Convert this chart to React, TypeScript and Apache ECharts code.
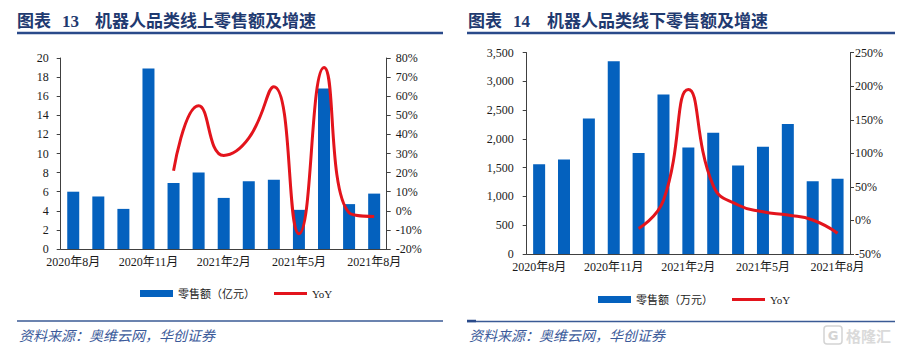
import React, { useEffect, useRef } from "react";
import * as echarts from "echarts";

const categories = [
  "2020年8月", "2020年9月", "2020年10月", "2020年11月", "2020年12月",
  "2021年1月", "2021年2月", "2021年3月", "2021年4月", "2021年5月",
  "2021年6月", "2021年7月", "2021年8月",
];
const onlineSales = [6.0, 5.5, 4.2, 18.9, 6.9, 8.0, 5.35, 7.1, 7.25, 4.1, 16.8, 4.7, 5.8];
const onlineYoY = [null, null, null, null, 21, 55, 29, 38, 65, -12, 75, -1, -3];
const offlineSales = [1560, 1645, 2355, 3350, 1755, 2775, 1850, 2110, 1540, 1865, 2260, 1265, 1310];
const offlineYoY = [null, null, null, null, -12, 30, 195, 52, 23, 13, 8, 0.7, -19];

const leftTicks = { min: 0, max: 20, interval: 2 };
const leftPct = { min: -20, max: 80, interval: 10 };
const rightTicks = { min: 0, max: 3500, interval: 500 };
const rightPct = { min: -50, max: 250, interval: 50 };

const BLUE = "#0461BE";
const RED = "#E3141C";
const AXIS = "#404040";
const LABEL = "#1a1a1a";
const SERIF = "'Liberation Serif', 'Times New Roman', 'Noto Sans CJK SC', serif";
const TITLE_C = "#1f3a70";

export default function App() {
  const ref = useRef<HTMLDivElement>(null);
  useEffect(() => {
    if (!ref.current) return;
    const chart = echarts.init(ref.current, undefined, { renderer: "svg" });
    const xAxisBase = (gridIndex: number) => ({
      type: "category" as const,
      gridIndex,
      data: categories,
      axisLine: { lineStyle: { color: AXIS, width: 1 } },
      axisTick: { interval: 2, length: 4, lineStyle: { color: AXIS } },
      axisLabel: { interval: 2, color: LABEL, fontFamily: SERIF, fontSize: 12, margin: 7 },
    });
    const yAxisBase = (gridIndex: number, pos: "left" | "right", margin: number) => ({
      type: "value" as const,
      gridIndex,
      position: pos,
      splitLine: { show: false },
      axisLine: { show: true, lineStyle: { color: AXIS, width: 1 } },
      axisTick: { show: true, length: 4, lineStyle: { color: AXIS } },
      axisLabel: { color: LABEL, fontFamily: SERIF, fontSize: 12, margin },
    });
    const legendText = { fontSize: 11, color: LABEL, fontFamily: SERIF };
    const barLegend = (left: number, top: number, name: string) => ({
      left, top, itemWidth: 33, itemHeight: 7,
      data: [{ name, icon: "rect" }], textStyle: legendText,
    });
    const lineLegend = (left: number, top: number, name: string) => ({
      left, top, itemWidth: 33, itemHeight: 3,
      data: [{ name, icon: "rect" }], textStyle: legendText,
    });
    chart.setOption({
      animation: false,
      grid: [
        { left: 60.7, top: 58, width: 326, height: 191 },
        { left: 526.7, top: 52.7, width: 323.3, height: 201.3 },
      ],
      xAxis: [xAxisBase(0), xAxisBase(1)],
      yAxis: [
        { ...yAxisBase(0, "left", 12), ...leftTicks },
        {
          ...yAxisBase(0, "right", 9), ...leftPct,
          axisLabel: { color: LABEL, fontFamily: SERIF, fontSize: 12, margin: 9, formatter: "{value}%" },
        },
        {
          ...yAxisBase(1, "left", 13), ...rightTicks,
          axisLabel: {
            color: LABEL, fontFamily: SERIF, fontSize: 12, margin: 13,
            formatter: (v: number) => v.toLocaleString("en-US"),
          },
        },
        {
          ...yAxisBase(1, "right", 5), ...rightPct,
          axisLabel: { color: LABEL, fontFamily: SERIF, fontSize: 12, margin: 5, formatter: "{value}%" },
        },
      ],
      legend: [
        barLegend(135, 283, "零售额（亿元）"),
        lineLegend(269, 283, "YoY"),
        barLegend(593, 289, "零售额（万元）"),
        lineLegend(727, 289, "YoY "),
      ],
      series: [
        {
          name: "零售额（亿元）", type: "bar", xAxisIndex: 0, yAxisIndex: 0,
          data: onlineSales, barWidth: 12, itemStyle: { color: BLUE },
        },
        {
          name: "YoY", type: "line", xAxisIndex: 0, yAxisIndex: 1, data: onlineYoY,
          smooth: 0.5, symbol: "none", lineStyle: { color: RED, width: 3 }, itemStyle: { color: RED },
        },
        {
          name: "零售额（万元）", type: "bar", xAxisIndex: 1, yAxisIndex: 2,
          data: offlineSales, barWidth: 12, itemStyle: { color: BLUE },
        },
        {
          name: "YoY ", type: "line", xAxisIndex: 1, yAxisIndex: 3, data: offlineYoY,
          smooth: 0.5, symbol: "none", lineStyle: { color: RED, width: 3 }, itemStyle: { color: RED },
        },
      ],
      graphic: [
        { type: "text", x: 17, y: 21, style: { text: "图表", font: `bold 17px ${SERIF}`, fill: TITLE_C, verticalAlign: "middle", textVerticalAlign: "middle" } },
        { type: "text", x: 62, y: 21, style: { text: "13", font: `bold 17px ${SERIF}`, fill: TITLE_C, verticalAlign: "middle", textVerticalAlign: "middle" } },
        { type: "text", x: 95, y: 21, style: { text: "机器人品类线上零售额及增速", font: `bold 17px ${SERIF}`, fill: TITLE_C, verticalAlign: "middle", textVerticalAlign: "middle" } },
        { type: "text", x: 468, y: 21, style: { text: "图表", font: `bold 17px ${SERIF}`, fill: TITLE_C, verticalAlign: "middle", textVerticalAlign: "middle" } },
        { type: "text", x: 513, y: 21, style: { text: "14", font: `bold 17px ${SERIF}`, fill: TITLE_C, verticalAlign: "middle", textVerticalAlign: "middle" } },
        { type: "text", x: 547, y: 21, style: { text: "机器人品类线下零售额及增速", font: `bold 17px ${SERIF}`, fill: TITLE_C, verticalAlign: "middle", textVerticalAlign: "middle" } },
        { type: "line", shape: { x1: 17, y1: 33, x2: 443, y2: 33 }, style: { stroke: "#2a4a8a", lineWidth: 2.5 } },
        { type: "line", shape: { x1: 467, y1: 33, x2: 895, y2: 33 }, style: { stroke: "#2a4a8a", lineWidth: 2.5 } },
        { type: "line", shape: { x1: 17, y1: 321, x2: 443, y2: 321 }, style: { stroke: "#3a5a95", lineWidth: 1.5 } },
        { type: "line", shape: { x1: 467, y1: 321.5, x2: 895, y2: 321.5 }, style: { stroke: "#3a5a95", lineWidth: 1.5 } },
        { type: "line", shape: { x1: 467, y1: 321, x2: 476, y2: 321 }, style: { stroke: "#2a4a8a", lineWidth: 2.5 } },
        { type: "text", x: 19, y: 335, style: { text: "资料来源：奥维云网，华创证券", font: `italic 14px 'Noto Sans CJK SC'`, fill: "#3b5a9a", verticalAlign: "middle", textVerticalAlign: "middle" } },
        { type: "text", x: 469, y: 335, style: { text: "资料来源：奥维云网，华创证券", font: `italic 14px 'Noto Sans CJK SC'`, fill: "#3b5a9a", verticalAlign: "middle", textVerticalAlign: "middle" } },
        { type: "rect", shape: { x: 824, y: 326, width: 18, height: 18, r: 3 }, style: { fill: "none", stroke: "#d4d4d4", lineWidth: 1.5 } },
        { type: "text", x: 833, y: 335.5, style: { text: "G", font: `bold 13px 'DejaVu Sans'`, fill: "#d4d4d4", align: "center", textAlign: "center", verticalAlign: "middle", textVerticalAlign: "middle" } },
        { type: "text", x: 846, y: 335.5, style: { text: "格隆汇", font: `bold 15px 'Noto Sans CJK SC'`, fill: "#dadada", verticalAlign: "middle", textVerticalAlign: "middle" } },
      ],
    });
    return () => chart.dispose();
  }, []);
  return (
    <div
      ref={ref}
      style={{ position: "fixed", left: 0, top: 0, width: 899, height: 352, background: "#fff" }}
    />
  );
}
